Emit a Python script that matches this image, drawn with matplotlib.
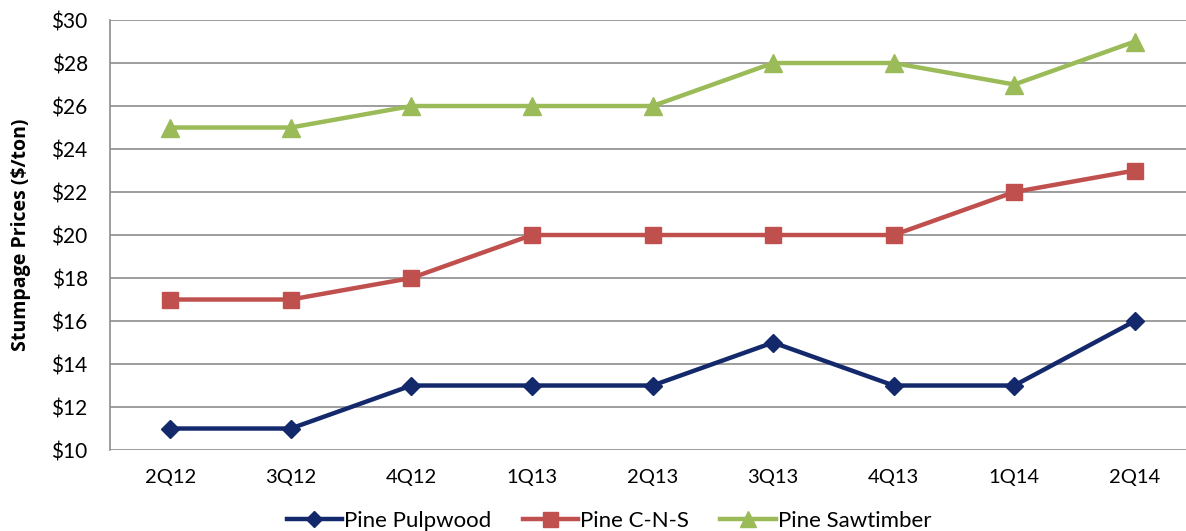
import matplotlib.pyplot as plt
from matplotlib.ticker import FuncFormatter

quarters = ['2Q12', '3Q12', '4Q12', '1Q13', '2Q13', '3Q13', '4Q13', '1Q14', '2Q14']
pulpwood = [11, 11, 13, 13, 13, 15, 13, 13, 16]
cns = [17, 17, 18, 20, 20, 20, 20, 22, 23]
sawtimber = [25, 25, 26, 26, 26, 28, 28, 27, 29]

plt.rcParams['font.family'] = ['Lato', 'DejaVu Sans']

fig = plt.figure(figsize=(11.86, 5.31), dpi=100)
ax = fig.add_axes([0.0927, 0.1525, 0.915, 0.8098])

x = range(len(quarters))
ax.plot(x, pulpwood, color='#13296B', lw=3.2, marker='D', ms=9, label='Pine Pulpwood')
ax.plot(x, cns, color='#C0504D', lw=3.2, marker='s', ms=12, label='Pine C-N-S')
ax.plot(x, sawtimber, color='#9BBB59', lw=3.2, marker='^', ms=13, label='Pine Sawtimber')

ax.set_xlim(-0.5, len(quarters) - 0.5)
ax.set_ylim(10, 30)
ax.set_yticks(range(10, 31, 2))
ax.yaxis.set_major_formatter(FuncFormatter(lambda v, p: '$%d' % v))
ax.set_xticks(list(x))
ax.set_xticklabels(quarters)
ax.grid(axis='y', color='#8c8c8c', lw=1.2)
ax.set_axisbelow(True)
for s in ['top', 'right', 'bottom']:
    ax.spines[s].set_visible(False)
ax.spines['left'].set_color('#8c8c8c')
ax.spines['left'].set_linewidth(1.2)
ax.tick_params(axis='y', length=0, labelsize=15, pad=16)
ax.tick_params(axis='x', length=0, labelsize=14.5, pad=14)
ax.set_ylabel('Stumpage Prices ($/ton)', fontsize=14, fontweight='bold', labelpad=15,
              family=['Open Sans', 'DejaVu Sans'])

ax.legend(loc='upper center', bbox_to_anchor=(0.46, -0.095), ncol=3, frameon=False,
          fontsize=16, handlelength=2.5, handletextpad=0.1, columnspacing=1.4,
          markerscale=0.9)

fig.savefig('out.png', dpi=100)
